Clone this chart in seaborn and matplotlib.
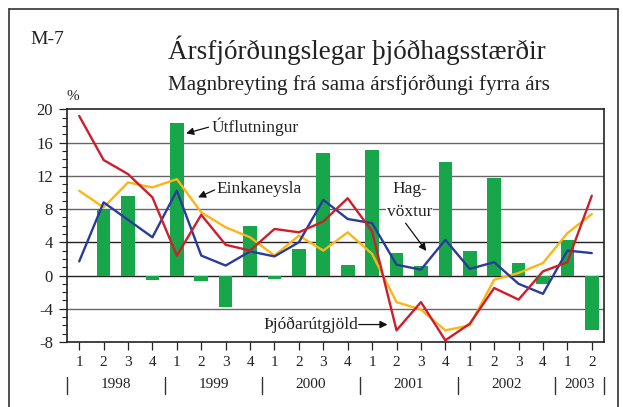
import numpy as np
import pandas as pd
import matplotlib
matplotlib.use("Agg")
import matplotlib.pyplot as plt
import seaborn as sns
from matplotlib import transforms
from matplotlib.lines import Line2D
from matplotlib.ticker import MultipleLocator

# ---------------- data ----------------
quarter_labels = ["1", "2", "3", "4"] * 5 + ["1", "2"]
years = ["1998", "1999", "2000", "2001", "2002", "2003"]
year_quarters = [4, 4, 4, 4, 4, 2]

utflutningur = [0.0, 7.9, 9.6, -0.5, 18.3, -0.7, -3.8, 6.0, -0.4, 3.2, 14.8,
                1.3, 15.1, 2.7, 1.2, 13.6, 3.0, 11.7, 1.5, -1.0, 4.3, -6.6]
thjodarutgjold = [19.2, 13.9, 12.2, 9.4, 2.4, 7.3, 3.7, 3.0, 5.6, 5.2, 6.5,
                  9.3, 5.3, -6.6, -3.2, -7.8, -5.8, -1.5, -2.9, 0.5, 1.6, 9.6]
hagvoxtur = [1.7, 8.8, 6.7, 4.6, 10.2, 2.4, 1.2, 2.9, 2.3, 4.0, 9.1,
             6.8, 6.3, 1.3, 0.7, 4.3, 0.8, 1.6, -1.0, -2.2, 3.0, 2.7]
einkaneysla = [10.2, 8.2, 11.2, 10.6, 11.6, 7.6, 5.8, 4.6, 2.4, 4.8, 3.0,
               5.2, 2.6, -3.2, -4.1, -6.6, -6.0, -0.5, 0.3, 1.5, 5.1, 7.4]

df = pd.DataFrame({
    "idx": np.arange(len(utflutningur)),
    "utflutningur": utflutningur,
    "thjodarutgjold": thjodarutgjold,
    "hagvoxtur": hagvoxtur,
    "einkaneysla": einkaneysla,
})

GREEN = "#17a74a"
RED = "#cc1e2c"
BLUE = "#2a3b9a"
ORANGE = "#fdb515"

# ---------------- style ----------------
sns.set_theme(style="white")
plt.rcParams["font.family"] = ["Liberation Serif", "DejaVu Serif"]
plt.rcParams["text.color"] = "#222222"

W, H = 623, 407
fig = plt.figure(figsize=(W / 100, H / 100), dpi=100)
ax = fig.add_axes([67 / W, 1 - 342 / H, (604 - 67) / W, (342 - 109.3) / H])

# gridlines
for v in range(-8, 21, 4):
    if v in (-8, 20):
        continue
    col = "#222222" if v in (0, 4) else "#666666"
    ax.axhline(v, color=col, lw=1.0, zorder=1)

sns.barplot(data=df, x="idx", y="utflutningur", color=GREEN, saturation=1,
            width=0.56, errorbar=None, ax=ax, zorder=2, linewidth=0)
sns.lineplot(data=df, x="idx", y="einkaneysla", color=ORANGE, lw=1.7, ax=ax, zorder=3)
sns.lineplot(data=df, x="idx", y="hagvoxtur", color=BLUE, lw=1.7, ax=ax, zorder=4)
sns.lineplot(data=df, x="idx", y="thjodarutgjold", color=RED, lw=1.7, ax=ax, zorder=5)

ax.set_xlim(-0.5, len(utflutningur) - 0.5)
ax.set_ylim(-8, 20)
ax.set_xlabel("")
ax.set_ylabel("")

ax.set_xticks(np.arange(len(quarter_labels)))
ax.set_xticklabels(quarter_labels, fontsize=11)
ax.set_yticks(range(-8, 21, 4))
ax.set_yticklabels([str(v) for v in range(-8, 21, 4)], fontsize=12)
ax.yaxis.set_minor_locator(MultipleLocator(1))
ax.tick_params(axis="x", which="major", bottom=True, direction="out",
               length=6, width=0.9, pad=4, colors="#222222")
ax.tick_params(axis="y", which="major", left=True, direction="out",
               length=6, width=0.9, pad=4, colors="#222222")
ax.tick_params(axis="y", which="minor", left=True, direction="out",
               length=3.5, width=0.8, colors="#222222")

for s in ax.spines.values():
    s.set_visible(True)
    s.set_color("#222222")
    s.set_linewidth(1.2)

# year labels and separators
trans = transforms.blended_transform_factory(ax.transData, fig.transFigure)
start = 0
seps = [-0.5]
for yr, n in zip(years, year_quarters):
    center = start + (n - 1) / 2
    ax.text(center, 1 - 384 / H, yr, transform=trans, ha="center", va="center",
            fontsize=11)
    start += n
    seps.append(start - 0.5)
for sx in seps:
    ax.add_line(Line2D([sx, sx], [1 - 377 / H, 1 - 394 / H], transform=trans,
                       color="#333333", lw=1.0, clip_on=False))

# annotations
arrow = dict(arrowstyle="-|>", color="#111111", lw=0.9, mutation_scale=11,
             shrinkA=0, shrinkB=0)
ax.text(5.42, 17.85, "Útflutningur", ha="left", va="center", fontsize=12.5, zorder=6)
ax.annotate("", xy=(4.38, 17.1), xytext=(5.3, 17.85), arrowprops=arrow, zorder=6)

ax.text(5.64, 10.4, "Einkaneysla", ha="left", va="center", fontsize=12.5, zorder=6)
ax.annotate("", xy=(4.87, 9.4), xytext=(5.55, 10.3), arrowprops=arrow, zorder=6)

ax.text(13.53, 10.4, "Hag-", ha="center", va="center", fontsize=12.5, zorder=6)
ax.text(13.53, 7.65, "vöxtur", ha="center", va="center", fontsize=12.5, zorder=6,
        bbox=dict(facecolor="white", edgecolor="none", pad=0.5))
ax.annotate("", xy=(14.22, 2.95), xytext=(13.37, 6.3), arrowprops=arrow, zorder=6)

ax.text(11.42, -5.9, "Þjóðarútgjöld", ha="right", va="center", fontsize=12.5, zorder=6)
ax.annotate("", xy=(12.63, -5.9), xytext=(11.45, -5.9), arrowprops=arrow, zorder=6)

# titles
fig.text(30 / W, 1 - 40 / H, "M-7", ha="left", va="center", fontsize=14)
fig.text(357 / W, 1 - 50 / H, "Ársfjórðungslegar þjóðhagsstærðir", ha="center",
         va="center", fontsize=19.5)
fig.text(359 / W, 1 - 85 / H, "Magnbreyting frá sama ársfjórðungi fyrra árs",
         ha="center", va="center", fontsize=15.2)
fig.text(73 / W, 1 - 96 / H, "%", ha="center", va="center", fontsize=11)

# outer frame (open at bottom)
for xs, ys in [([8.5, 8.5], [H, 8.5]), ([8.5, 617.5], [8.5, 8.5]),
               ([617.5, 617.5], [8.5, H])]:
    fig.add_artist(Line2D([x / W for x in xs], [1 - y / H for y in ys],
                          transform=fig.transFigure, color="#333333", lw=1.2))

fig.savefig("out.png", dpi=100)
